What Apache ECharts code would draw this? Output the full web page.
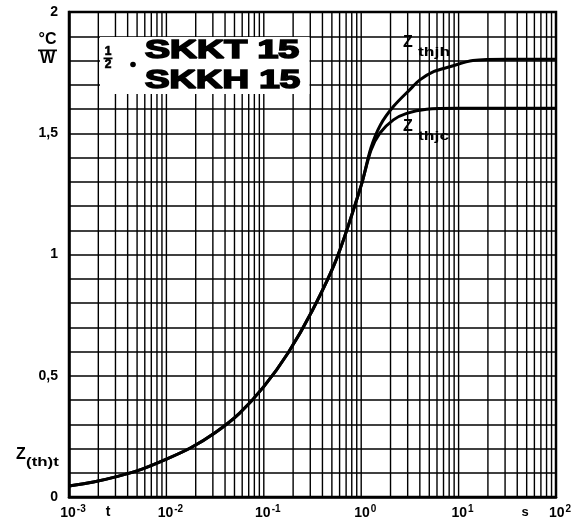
<!DOCTYPE html>
<html><head><meta charset="utf-8">
<script src="https://cdn.jsdelivr.net/npm/echarts@6/dist/echarts.min.js"></script>
<style>html,body{margin:0;padding:0;background:#fff}#c{width:576px;height:526px}</style>
</head><body><div id="c"></div>
<script>
// ---- data ----
const tCommon = [0.001, 0.00178, 0.00316, 0.00562, 0.01, 0.0178, 0.0316, 0.0562, 0.1, 0.178, 0.316, 0.562, 1.0];
const zCommon = [0.045, 0.062, 0.085, 0.115, 0.156, 0.203, 0.265, 0.345, 0.455, 0.595, 0.77, 0.985, 1.285];
const tJh = [1.26, 1.58, 2.14, 3.16, 4.0, 5.6, 8.1, 14, 32, 100];
const zJh = [1.44, 1.535, 1.61, 1.68, 1.72, 1.755, 1.774, 1.80, 1.805, 1.805];
const tJc = [1.26, 1.55, 2.14, 2.93, 4.7, 9.6, 30, 100];
const zJc = [1.43, 1.50, 1.555, 1.582, 1.599, 1.603, 1.603, 1.603];
const xExponents = [-3, -2, -1, 0, 1, 2];
const yTickLabels = ['0', '0,5', '1', '1,5', '2'];
const yTickValues = [0, 0.5, 1, 1.5, 2];
const gridMultipliers = [1, 2, 3, 4, 5, 6, 7, 8, 9];
const gridDecades = [0.001, 0.01, 0.1, 1, 10];

const gridX = [];
gridDecades.forEach(d => gridMultipliers.forEach(m => gridX.push(+(m * d).toPrecision(6))));
gridX.push(100);

const pairs = (ts, zs) => ts.map((t, i) => [t, zs[i]]);
const jhData = pairs(tCommon, zCommon).concat(pairs(tJh, zJh));
const jcData = pairs(tCommon, zCommon).concat(pairs(tJc, zJc));

const FONT = '"Liberation Sans", Arial, Helvetica, sans-serif';
const INK = '#000';

function txt(x, y, text, size, sx, align, stroke) {
  const st = { text: text, font: 'bold ' + size + 'px ' + FONT, fill: INK,
    align: align || 'left', verticalAlign: 'middle' };
  if (stroke) { st.stroke = INK; st.lineWidth = stroke; }
  return { type: 'text', x: x, y: y, scaleX: sx || 1, z: 100, style: st };
}
function bar(x, y, w, h) {
  return { type: 'rect', z: 100, shape: { x: x, y: y, width: w, height: h }, style: { fill: INK } };
}

const gridSeries = gridX.map(v => ({
  type: 'line', silent: true, showSymbol: false, symbol: 'none', z: 1,
  data: [[v, 0], [v, 2]],
  lineStyle: { color: INK, width: 1.4 }
}));

const chart = echarts.init(document.getElementById('c'), null, { renderer: 'canvas' });
chart.setOption({
  animation: false,
  backgroundColor: '#fff',
  grid: { left: 69, right: 20, top: 12, bottom: 29, show: true, borderColor: INK, borderWidth: 2.5, containLabel: false },
  xAxis: {
    type: 'log', logBase: 10, min: 0.001, max: 100,
    axisLine: { show: true, onZero: false, lineStyle: { color: INK, width: 2.5 } },
    axisTick: { show: false },
    splitLine: { show: false },
    axisLabel: {
      margin: 7, color: INK,
      formatter: function (v) {
        const e = Math.round(Math.log10(v));
        if (xExponents.indexOf(e) < 0) return '';
        return '{p|}{b|10}{s|' + String(e) + '}';
      },
      rich: {
        p: { width: 8 },
        b: { fontSize: 14, fontWeight: 'bold', fontFamily: FONT, color: INK },
        s: { fontSize: 10, fontWeight: 'bold', fontFamily: FONT, color: INK, padding: [0, 0, 9, 1] }
      }
    }
  },
  yAxis: {
    type: 'value', min: 0, max: 2, interval: 0.1,
    axisLine: { show: true, onZero: false, lineStyle: { color: INK, width: 2.5 } },
    axisTick: { show: false },
    splitLine: { show: true, lineStyle: { color: INK, width: 1.6 } },
    axisLabel: {
      margin: 11, color: INK, fontSize: 14, fontWeight: 'bold', fontFamily: FONT,
      formatter: function (v) {
        for (let i = 0; i < yTickValues.length; i++) {
          if (Math.abs(v - yTickValues[i]) < 1e-6) return yTickLabels[i];
        }
        return '';
      }
    }
  },
  series: gridSeries.concat([
    { name: 'Zthjh', type: 'line', data: jhData, smooth: 0.3, showSymbol: false, z: 5,
      lineStyle: { color: INK, width: 3 } },
    { name: 'Zthjc', type: 'line', data: jcData, smooth: 0.3, showSymbol: false, z: 5,
      lineStyle: { color: INK, width: 3 } }
  ]),
  graphic: [
    { type: 'rect', z: 90, shape: { x: 100, y: 37, width: 209.5, height: 57 }, style: { fill: '#fff' } },
    txt(145, 51, 'SKKT 15', 25, 1.5, 'left', 1.6),
    txt(145, 81, 'SKKH 15', 25, 1.47, 'left', 1.6),
    txt(108, 52, '1', 12, 1, 'center', 0.6),
    bar(103.5, 57.5, 9, 1.8),
    txt(108, 64.5, '2', 12, 1, 'center', 0.6),
    { type: 'circle', z: 100, shape: { cx: 133, cy: 64.5, r: 2.8 }, style: { fill: INK } },
    // unit
    txt(47.5, 40, '°C', 16, 1, 'center'),
    bar(38, 49.5, 19, 1.8),
    txt(47.5, 59, 'W', 16, 1, 'center'),
    // curve names
    txt(403, 43, 'Z', 16, 1),
    txt(418, 52, 'thjh', 13, 1.35),
    txt(403, 127, 'Z', 16, 1),
    txt(418, 136, 'thjc', 13, 1.35),
    // y quantity
    txt(16, 455, 'Z', 16, 1),
    txt(26, 462, '(th)t', 13, 1.3),
    // x quantity
    txt(108, 512, 't', 14, 1, 'center'),
    txt(525, 512, 's', 13, 1, 'center')
  ]
});
</script>
</body></html>
